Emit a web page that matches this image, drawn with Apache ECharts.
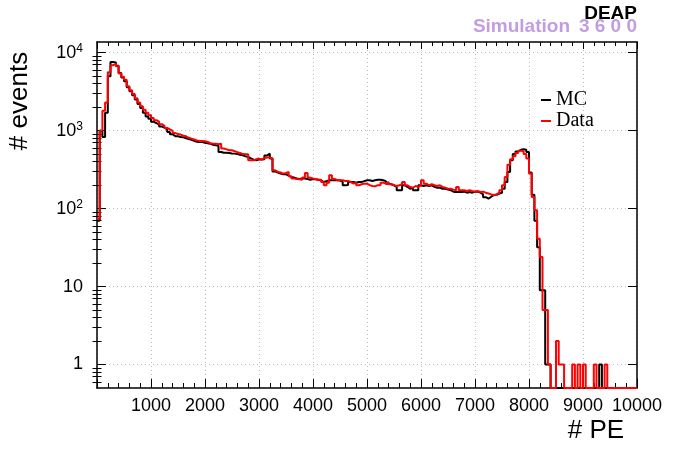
<!DOCTYPE html>
<html><head><meta charset="utf-8">
<script src="https://cdn.jsdelivr.net/npm/echarts@6/dist/echarts.min.js"></script>
<style>html,body{margin:0;padding:0;background:#fff}#c{width:673px;height:449px}</style>
</head><body><div id="c"></div>
<script>
// ---- data ----
const binWidth = 50;           // PE per bin
const xMin = 0, xMax = 10000;
const yMin = 0.5, yMax = 13700;
const yMajorTicks = [1, 10, 100, 1000, 10000];
const yMinorTicks = [0.6, 0.7, 0.8, 0.9, 2, 3, 4, 5, 6, 7, 8, 9, 20, 30, 40, 50, 60, 70, 80, 90,
  200, 300, 400, 500, 600, 700, 800, 900, 2000, 3000, 4000, 5000, 6000, 7000, 8000, 9000];
const seriesNames = ['MC', 'Data'];

// black histogram (MC), counts per 50 PE bin
const mcCounts = [
  70, 1000, 830, 1700, 5000, 7600, 7500, 6800, 5500, 4800,
  4300, 3600, 3200, 2850, 2500, 2200, 1950, 1700, 1520, 1420,
  1300, 1250, 1200, 1130, 1090, 1040, 960, 900, 850, 845,
  830, 820, 800, 780, 760, 740, 720, 715, 714, 700,
  690, 680, 660, 649, 640, 532, 520, 520, 515, 510,
  507, 500, 490, 482, 470, 459, 440, 425, 416, 425,
  425, 430, 480, 507, 440, 300, 290, 281, 275, 275,
  265, 254, 250, 243, 240, 243, 243, 240, 235, 240,
  238, 235, 230, 219, 225, 231, 231, 231, 231, 230,
  220, 199, 200, 219, 219, 215, 219, 219, 225, 231,
  231, 226, 231, 235, 235, 231, 225, 209, 205, 199,
  190, 172, 172, 199, 190, 180, 185, 172, 172, 199,
  195, 199, 195, 199, 190, 185, 185, 180, 180, 175,
  172, 165, 163, 165, 163, 165, 160, 163, 160, 165,
  165, 160, 152, 140, 134, 142, 149, 150, 156, 160,
  180, 219, 295, 417, 500, 540, 569, 575, 569, 530,
  290, 150, 70, 32, 9, 9, 1, 1, 0, 0,
  0, 0, 0, 0, 0, 0, 0, 0, 0, 0,
  0, 0, 0, 0, 0, 0, 1, 0, 0, 0,
  0, 0, 0, 0, 0, 0, 0, 0, 0, 0
];
// red histogram (Data)
const dataCounts = [
  74, 1000, 1800, 2300, 5600, 6900, 7200, 6700, 5400, 4900,
  4500, 3700, 3300, 2950, 2600, 2300, 2050, 1850, 1700, 1580,
  1450, 1360, 1300, 1210, 1150, 1080, 1040, 990, 930, 905,
  890, 860, 845, 810, 790, 770, 750, 735, 736, 730,
  714, 690, 681, 681, 670, 681, 590, 575, 560, 560,
  545, 530, 517, 500, 497, 497, 416, 416, 430, 438,
  425, 445, 451, 451, 440, 310, 295, 290, 281, 286,
  295, 260, 243, 240, 238, 235, 250, 286, 250, 243,
  238, 235, 235, 220, 199, 215, 267, 240, 231, 231,
  231, 226, 226, 219, 209, 215, 199, 205, 209, 209,
  200, 195, 193, 200, 199, 215, 209, 220, 205, 199,
  195, 199, 205, 219, 199, 189, 185, 195, 190, 199,
  231, 209, 199, 205, 199, 195, 199, 190, 185, 180,
  180, 175, 172, 189, 172, 172, 168, 172, 168, 165,
  168, 163, 165, 160, 156, 152, 149, 152, 160, 172,
  199, 254, 366, 430, 470, 515, 553, 545, 500, 438,
  281, 141, 95, 41, 24, 5, 5, 1, 0, 0,
  2, 1, 1, 0, 0, 0, 1, 0, 1, 0,
  1, 0, 0, 0, 1, 0, 0, 0, 1, 0,
  0, 0, 0, 0, 0, 0, 0, 0, 0, 0
];

// ---- build step outlines (empty bins sit on the frame floor, as in ROOT) ----
function histPoints(counts) {
  const pts = counts.map((c, i) => [i * binWidth, c > 0 ? c : yMin]);
  pts.push([counts.length * binWidth, pts[pts.length - 1][1]]);
  return pts;
}

const SANS = '"Liberation Sans", Arial, Helvetica, sans-serif';
const SERIF = '"Liberation Serif", "Times New Roman", serif';
const lav = '#c39de0';

const frameLine = { show: true, onZero: false, lineStyle: { color: '#000', width: 1.5 } };

function xAx(pos, main) {
  return {
    type: 'value', position: pos, min: xMin, max: xMax, interval: 1000,
    axisLine: frameLine,
    axisTick: { show: true, inside: true, length: main ? 9 : 7, lineStyle: { color: '#000', width: 1 } },
    minorTick: { show: true, splitNumber: 5, length: main ? 5 : 4, lineStyle: { color: '#000', width: 1 } },
    axisLabel: main ? {
      show: true, margin: 9, fontSize: 18, fontFamily: SANS, color: '#000',
      formatter: v => (v === 0 ? '' : String(v))
    } : { show: false },
    splitLine: main ? { show: true, lineStyle: { type: [1, 3], color: '#bdbdbd', width: 1 } } : { show: false },
    minorSplitLine: { show: false }
  };
}

function yAx(pos, kind) {
  const base = { type: 'log', position: pos, min: yMin, max: yMax, logBase: 10 };
  if (kind === 'major') {
    return Object.assign(base, {
      axisLine: frameLine,
      axisTick: { show: true, inside: true, length: 9, customValues: yMajorTicks, lineStyle: { color: '#000', width: 1 } },
      axisLabel: pos === 'left' ? {
        show: true, margin: 14, customValues: yMajorTicks, color: '#000',
        formatter: v => {
          const e = Math.round(Math.log10(v));
          if (e <= 1) return '{b|' + Math.round(v) + '}';
          return '{b|10}{s|' + e + '}';
        },
        rich: {
          b: { fontSize: 18, fontFamily: SANS, color: '#000', lineHeight: 20 },
          s: { fontSize: 12, fontFamily: SANS, color: '#000', verticalAlign: 'top', lineHeight: 12 }
        }
      } : { show: false },
      splitLine: pos === 'left' ? { show: true, lineStyle: { type: [1, 3], color: '#bdbdbd', width: 1 } } : { show: false }
    });
  }
  return Object.assign(base, {
    axisLine: { show: false },
    axisTick: { show: true, inside: true, length: 4.5, customValues: yMinorTicks, lineStyle: { color: '#000', width: 1 } },
    axisLabel: { show: false },
    splitLine: { show: false }
  });
}

const chart = echarts.init(document.getElementById('c'), null, { renderer: 'canvas' });
chart.setOption({
  animation: false,
  backgroundColor: '#fff',
  grid: { left: 97, right: 36, top: 42, bottom: 61, containLabel: false },
  xAxis: [xAx('bottom', true), xAx('top', false)],
  yAxis: [yAx('left', 'major'), yAx('left', 'minor'), yAx('right', 'major'), yAx('right', 'minor')],
  legend: {
    show: true, orient: 'vertical', left: 541, top: 90, itemGap: 1, padding: 0,
    itemWidth: 10, itemHeight: 2, selectedMode: false,
    textStyle: { fontFamily: SERIF, fontSize: 20, color: '#000', lineHeight: 20 },
    data: [{ name: seriesNames[0], icon: 'rect' }, { name: seriesNames[1], icon: 'rect' }]
  },
  series: [
    {
      name: seriesNames[0], type: 'line', step: 'end', xAxisIndex: 0, yAxisIndex: 0,
      data: histPoints(mcCounts), showSymbol: false, symbol: 'none', clip: true,
      lineStyle: { color: '#000', width: 2 }, itemStyle: { color: '#000' }, z: 3
    },
    {
      name: seriesNames[1], type: 'line', step: 'end', xAxisIndex: 0, yAxisIndex: 0,
      data: histPoints(dataCounts), showSymbol: false, symbol: 'none', clip: true,
      lineStyle: { color: '#ff0000', width: 2 }, itemStyle: { color: '#ff0000' }, z: 4
    }
  ],
  graphic: [
    { type: 'text', x: 570, y: 27, style: { text: 'Simulation', font: 'bold 19px ' + SANS, fill: lav, align: 'right', verticalAlign: 'middle' } },
    { type: 'text', x: 637, y: 27, style: { text: '3 6 0 0', font: 'bold 19px ' + SANS, fill: lav, align: 'right', verticalAlign: 'middle' } },
    { type: 'text', x: 637, y: 13.5, style: { text: 'DEAP', font: 'bold 19px ' + SANS, fill: '#000', align: 'right', verticalAlign: 'middle' } },
    { type: 'text', x: 20, y: 101, rotation: Math.PI / 2, style: { text: '# events', font: '26px ' + SANS, fill: '#000', align: 'center', verticalAlign: 'middle' } },
    { type: 'text', x: 596, y: 431, style: { text: '# PE', font: '26px ' + SANS, fill: '#000', align: 'center', verticalAlign: 'middle' } }
  ]
});
</script>
</body></html>
